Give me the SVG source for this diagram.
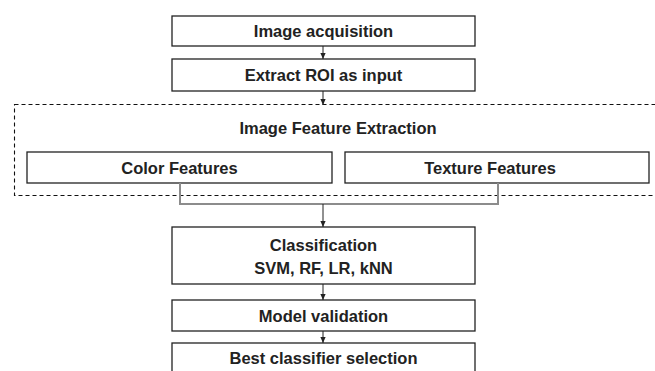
<svg xmlns="http://www.w3.org/2000/svg" width="655" height="371" viewBox="0 0 655 371">
<style>
.box{fill:#fff;stroke:#222;stroke-width:1.3}
.t{font-family:"Liberation Sans",Arial,sans-serif;font-weight:bold;font-size:16.5px;fill:#222;text-anchor:middle}
.arr{stroke:#222;stroke-width:1;fill:none;marker-end:url(#ah)}
</style>
<defs>
<marker id="ah" viewBox="0 0 8 8" refX="8" refY="4" markerWidth="6" markerHeight="6" orient="auto" markerUnits="userSpaceOnUse">
<path d="M0,0.5 L8,4 L0,7.5 Z" fill="#222"/>
</marker>
</defs>
<rect width="655" height="371" fill="#fff"/>
<g id="feature-extraction">
<rect x="14.5" y="104.5" width="648" height="91" fill="none" stroke="#111" stroke-width="1.1" stroke-dasharray="4,3"/>
<text class="t" x="338" y="134">Image Feature Extraction</text>
</g>
<g id="image-acquisition">
<rect class="box" x="172" y="16" width="303" height="30"/>
<text class="t" x="323.5" y="37">Image acquisition</text>
</g>
<g id="extract-roi">
<rect class="box" x="172" y="59" width="303" height="32"/>
<text class="t" x="323.5" y="81">Extract ROI as input</text>
</g>
<g id="color-features">
<rect class="box" x="27" y="152" width="305" height="31"/>
<text class="t" x="179.5" y="173.5">Color Features</text>
</g>
<g id="texture-features">
<rect class="box" x="345" y="152" width="304" height="31"/>
<text class="t" x="490" y="173.5">Texture Features</text>
</g>
<g id="classification">
<rect class="box" x="172" y="227" width="303" height="57"/>
<text class="t" x="323.5" y="251">Classification</text>
<text class="t" x="323.5" y="274">SVM, RF, LR, kNN</text>
</g>
<g id="model-validation">
<rect class="box" x="172" y="300" width="303" height="31"/>
<text class="t" x="323.5" y="321.5">Model validation</text>
</g>
<g id="best-classifier">
<rect class="box" x="172" y="343" width="303" height="32"/>
<text class="t" x="323.5" y="363.5">Best classifier selection</text>
</g>
<g id="connectors">
<path d="M180,183 V204 H498 V183" fill="none" stroke="#8c8c8c" stroke-width="2"/>
<line class="arr" x1="323" y1="46" x2="323" y2="59"/>
<line class="arr" x1="323" y1="91" x2="323" y2="105"/>
<line class="arr" x1="323" y1="204" x2="323" y2="227"/>
<line class="arr" x1="323" y1="284" x2="323" y2="300"/>
<line class="arr" x1="323" y1="331" x2="323" y2="343"/>
</g>
</svg>
